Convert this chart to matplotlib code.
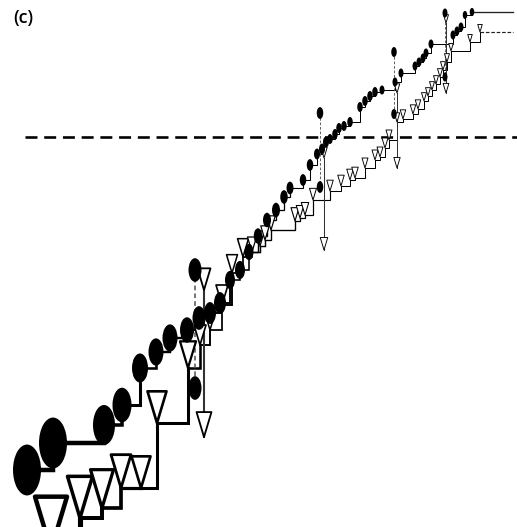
import numpy as np
import matplotlib
matplotlib.use("Agg")
import matplotlib.pyplot as plt
from matplotlib.path import Path
from matplotlib.collections import LineCollection

# ---- data -------------------------------------------------------------
# filled-circle series: study order, cumulative estimate, study weight
circle_x = [27, 53, 104, 122, 140, 156, 170, 187, 199, 210, 220, 230, 240, 249,
            258, 267, 276, 284, 290, 303, 310, 317, 322, 326, 330, 335, 339, 344,
            350, 360, 365, 370, 375, 382, 395, 401, 415, 419, 423, 426, 431, 453,
            457, 461, 465, 472]
circle_y = [57, 84, 102, 122, 159, 175, 189, 197, 209, 214, 224, 247, 257, 275,
            291, 307, 317, 330, 339, 347, 362, 373, 378, 385, 388, 393, 399, 401,
            405, 420, 426, 431, 435, 437, 445, 454, 461, 465, 469, 474, 483, 492,
            496, 500, 512, 515]
circle_w = [28, 28, 22, 19, 16, 15, 15, 14, 13, 12, 12, 10, 10, 9,
            8.5, 8, 8, 7.5, 7, 6.5, 6.5, 6, 6, 6, 5.5, 5.5, 5.5, 5.5,
            5.5, 5.5, 5.5, 5.5, 5.5, 5, 5, 5, 5, 5, 5, 5, 5, 5,
            5, 5, 4.5, 4.5]

# open-triangle series: study order, cumulative estimate, study weight
tri_x = [51, 80, 102, 121, 141, 157, 188, 200, 210, 222, 232, 243, 252, 260,
         265, 271, 295, 300, 305, 313, 330, 341, 350, 355, 365, 375, 380, 385,
         389, 397, 403, 413, 418, 424, 428, 432, 436, 440, 443, 447, 451, 470, 480]
tri_y = [-23, 9, 19, 39, 39, 104, 159, 182, 197, 222, 254, 270, 275, 281,
         287, 297, 306, 309, 312, 327, 336, 341, 347, 349, 359, 367, 370, 379,
         387, 405, 408, 413, 418, 426, 431, 437, 443, 450, 457, 465, 476, 485, 495]
tri_w = [32, 25, 23, 20, 19, 19, 16, 12, 11, 12, 11, 11, 9, 9,
         8.5, 8.5, 8, 7.5, 7.5, 7, 6.5, 6.5, 6.5, 6.5, 6, 6, 6, 6,
         6, 5.5, 5.5, 5.5, 5.5, 5, 5, 5, 5, 5, 5, 5, 4.5, 4.5, 4.5]

# flagged studies: circle pair (upper / lower) and triangle pair (start / end)
flag_cx = [195, 320, 394, 445]
flag_tx = [204, 324, 397, 446]
flag_hi = [257, 414, 475, 514]
flag_lo = [139, 340, 413, 450]
flag_tri = [237, 369, 434, 504]
flag_arrow = [90, 277, 359, 434]
flag_w = [13, 6.5, 5.5, 5]

ref_level = 390
ref_start = 25
series_end = 513

# ---- figure -----------------------------------------------------------
W, H, DPI = 517, 527, 100
PT = 72.0 / DPI          # points per pixel

fig = plt.figure(figsize=(W / DPI, H / DPI), dpi=DPI)
ax = fig.add_axes([0, 0, 1, 1])
ax.set_xlim(0, W)
ax.set_ylim(0, H)
ax.axis("off")

# marker shapes: tall ellipse centred on the point, down-triangle with tip on the point
uc = Path.unit_circle()
ellipse = Path(uc.vertices * np.array([0.55, 1.0]), uc.codes)
vtri = Path([(-0.3, 1.0), (0.3, 1.0), (0.0, 0.0), (-0.3, 1.0)],
            [Path.MOVETO, Path.LINETO, Path.LINETO, Path.CLOSEPOLY])


def circ_size(w):
    h = np.asarray(w, float) / 0.55
    return (h * PT) ** 2


def tri_size(w):
    h = np.asarray(w, float) / 0.6
    return (2 * h * PT) ** 2


def line_w(w):
    return np.maximum(1.0, 0.16 * np.asarray(w, float)) * PT


def edge_w(w):
    return np.maximum(0.9, 0.14 * np.asarray(w, float)) * PT


def steps(x, y):
    segs = []
    for i in range(len(x) - 1):
        segs.append([(x[i], y[i]), (x[i + 1], y[i]), (x[i + 1], y[i + 1])])
    return segs


# reference level
ax.plot([ref_start, W], [ref_level, ref_level], color="black",
        lw=2.6 * PT, dashes=(4.6, 2.6), zorder=1)

# step lines
ax.add_collection(LineCollection(steps(tri_x, tri_y), colors="black",
                                 linewidths=line_w(tri_w[:-1]),
                                 joinstyle="miter", capstyle="projecting", zorder=2))
ax.plot([tri_x[-1], series_end], [tri_y[-1], tri_y[-1]], color="#222222",
        lw=1.0 * PT * 1.2, dashes=(3, 1.5), zorder=2)
ax.add_collection(LineCollection(steps(circle_x, circle_y), colors="black",
                                 linewidths=line_w(circle_w[:-1]),
                                 joinstyle="miter", capstyle="projecting", zorder=2))
ax.plot([circle_x[-1], series_end], [circle_y[-1], circle_y[-1]], color="#222222",
        lw=1.1 * PT * 1.2, zorder=2)

# flagged studies
for cx, tx, hi, lo, tr, ar, w in zip(flag_cx, flag_tx, flag_hi, flag_lo,
                                     flag_tri, flag_arrow, flag_w):
    ax.plot([cx, cx], [hi, lo], color="#555555", lw=max(0.9, 0.12 * w) * PT,
            dashes=(3, 2), zorder=2)
    ax.plot([tx, tx], [tr, ar], color="#333333", lw=max(1.0, 0.16 * w) * PT,
            zorder=2)

ax.scatter(tri_x, tri_y, s=tri_size(tri_w), marker=vtri, facecolors="white",
           edgecolors="black", linewidths=edge_w(tri_w), zorder=3)
ax.scatter(flag_tx + flag_tx, flag_tri + flag_arrow,
           s=tri_size(flag_w + [w * 1.15 for w in flag_w]),
           marker=vtri, facecolors="white", edgecolors="black",
           linewidths=edge_w(flag_w + flag_w), zorder=3)
ax.scatter(circle_x, circle_y, s=circ_size(circle_w), marker=ellipse,
           facecolors="black", edgecolors="none", zorder=4)
ax.scatter(flag_cx + flag_cx, flag_hi + flag_lo, s=circ_size(flag_w + flag_w),
           marker=ellipse, facecolors="black", edgecolors="none", zorder=4)

fig.text(13 / W, 1 - 9 / H, "(c)", ha="left", va="top", fontsize=13,
         family="Open Sans", weight="semibold", color="black")

fig.savefig("out.png", dpi=DPI)
